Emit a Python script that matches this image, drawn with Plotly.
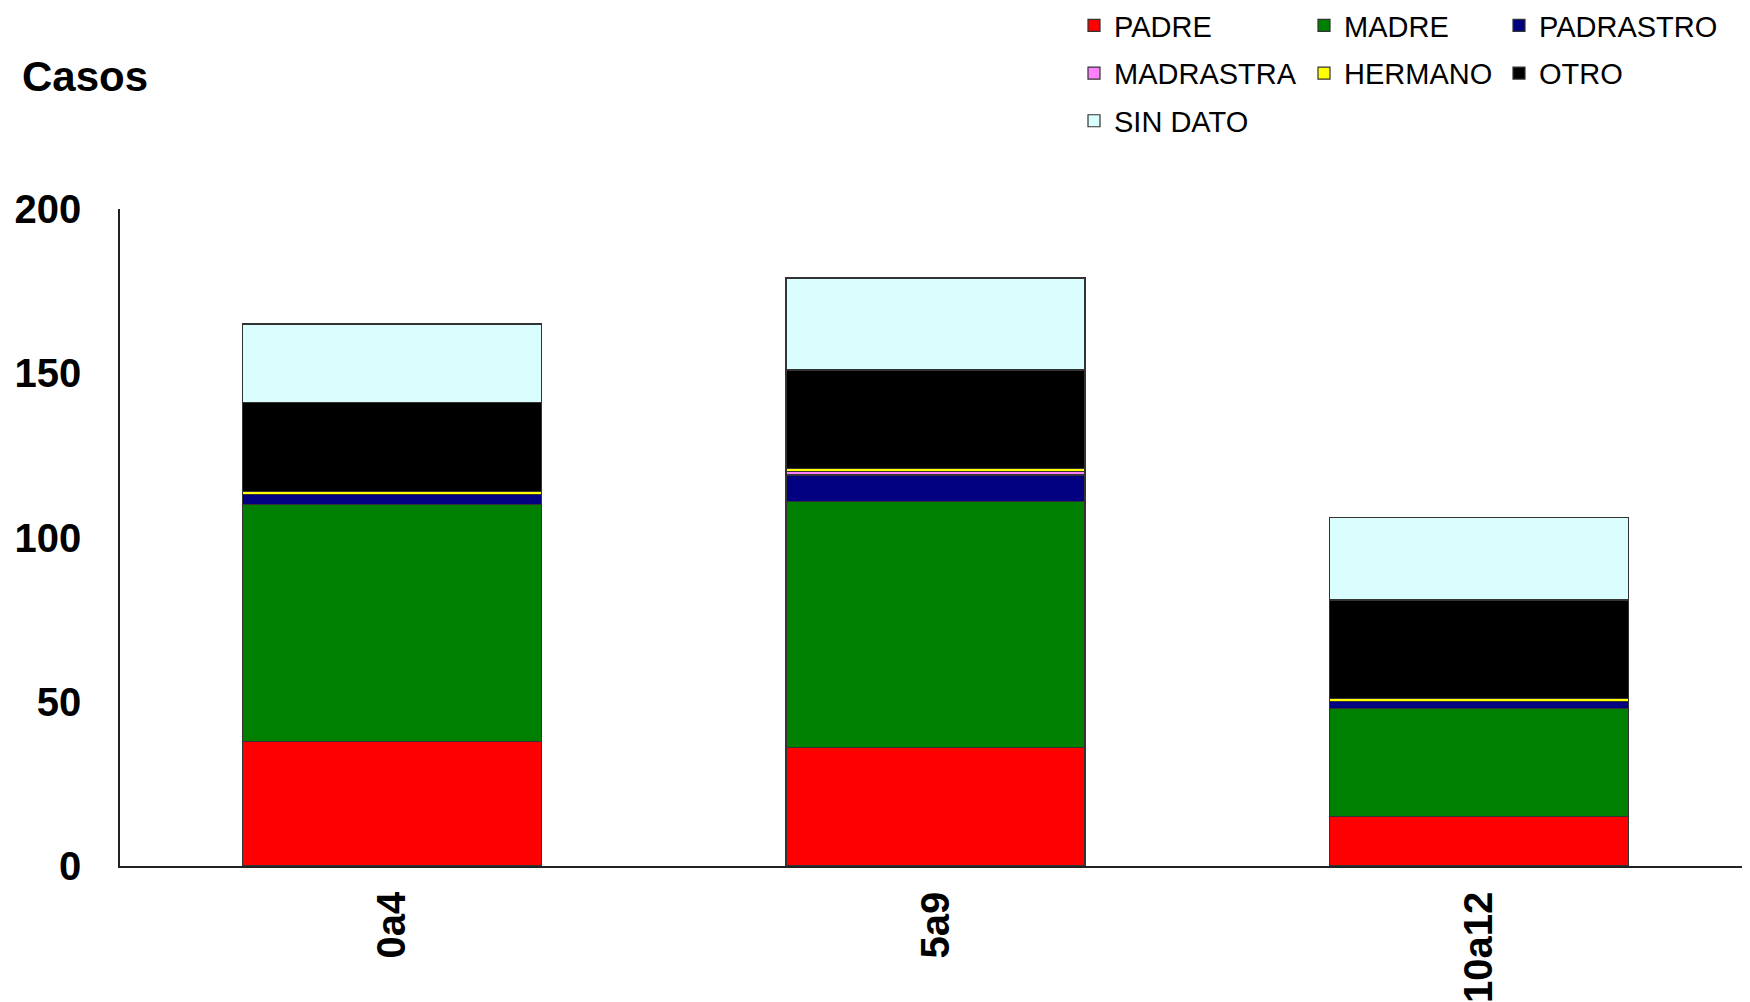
import plotly.graph_objects as go

categories = ["0a4", "5a9", "10a12"]
padre = [38, 36, 15]
madre = [72, 75, 33]
padrastro = [3, 8, 2]
madrastra = [None, 1, None]
hermano = [1, 1, 1]
otro = [27, 30, 30]
sin_dato = [24, 28, 25]

series_names = ["PADRE", "MADRE", "PADRASTRO", "MADRASTRA", "HERMANO", "OTRO", "SIN DATO"]
series_values = [padre, madre, padrastro, madrastra, hermano, otro, sin_dato]
series_colors = ["#FF0000", "#008000", "#000080", "#FF80FF", "#FFFF00", "#000000", "#DAFDFD"]
# legend column for each series (Excel-like 3-column legend)
legend_ids = ["legend", "legend2", "legend3", "legend", "legend2", "legend3", "legend"]

FONT = "Liberation Sans, Arial, sans-serif"
W, H = 1750, 1002
ML, MR, MT, MB = 112, 7, 201, 144
PLOT_H = H - MT - MB

fig = go.Figure()
for name, vals, color, lg in zip(series_names, series_values, series_colors, legend_ids):
    fig.add_trace(go.Bar(
        name=name, x=categories, y=vals, legend=lg, legendgroup=name,
        marker=dict(color=color, line=dict(color="#333333", width=1.2)),
    ))

def legend_cfg(xpx):
    return dict(orientation="v", xref="container", yref="paper",
                x=xpx / W, xanchor="left", y=1 + (MT + 8) / PLOT_H, yanchor="top",
                traceorder="grouped", tracegroupgap=7,
                font=dict(size=29, family=FONT, color="black"),
                bgcolor="rgba(0,0,0,0)")

fig.update_layout(
    width=W, height=H,
    barmode="stack", bargap=0.45,
    plot_bgcolor="white", paper_bgcolor="white",
    margin=dict(l=ML, r=MR, t=MT, b=MB, autoexpand=False),
    font=dict(family=FONT, color="black"),
    title=dict(text="<b>Casos</b>", x=14 / W, xanchor="left", xref="container",
               y=1 - 68 / H, yanchor="middle", yref="container",
               font=dict(size=42, family=FONT, color="black")),
    legend=legend_cfg(1066),
    legend2=legend_cfg(1296),
    legend3=legend_cfg(1491),
    showlegend=True,
)
fig.update_xaxes(
    showline=True, linecolor="#222222", linewidth=1.5,
    tickangle=-90, ticks="", ticklabelstandoff=8,
    tickfont=dict(size=40, family=FONT, weight="bold", color="black"),
    showgrid=False,
)
fig.update_yaxes(
    range=[0, 200], tickvals=[0, 50, 100, 150, 200],
    showline=True, linecolor="#222222", linewidth=1.5,
    ticks="", ticklabelstandoff=29,
    tickfont=dict(size=40, family=FONT, weight="bold", color="black"),
    showgrid=False, zeroline=False,
)

fig.write_html("out.html")
